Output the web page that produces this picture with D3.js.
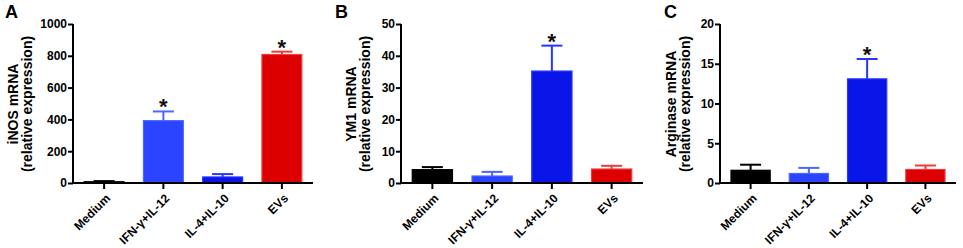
<!DOCTYPE html>
<html>
<head>
<script src="https://d3js.org/d3.v7.min.js"></script>
<style>
  body { margin: 0; background: #fff; }
  text { font-family: Arial, "Liberation Sans", sans-serif; font-weight: bold; }
</style>
</head>
<body>
<svg width="963" height="248"></svg>
<script>
const groups = ["Medium", "IFN-\u03b3+IL-12", "IL-4+IL-10", "EVs"];
const fills = ["#000000", "#2a44ff", "#0a16e8", "#dc0000"];
const strokes = ["#000000", "#4a66ff", "#2436ff", "#f03a3a"];

// panel A: iNOS
const inosMean = [8, 392, 38, 808];
const inosErr = [4, 58, 18, 18];
const inosStar = [false, true, false, true];
// panel B: YM1
const ym1Mean = [4.2, 2.2, 35.2, 4.4];
const ym1Err = [0.8, 1.3, 8.0, 1.0];
const ym1Star = [false, false, true, false];
// panel C: Arginase
const argMean = [1.6, 1.2, 13.1, 1.7];
const argErr = [0.7, 0.7, 2.5, 0.5];
const argStar = [false, false, true, false];

const panels = [
  {letter: "A", title: "iNOS mRNA", mean: inosMean, err: inosErr, star: inosStar,
   max: 1000, ticks: [0, 200, 400, 600, 800, 1000], x0: 73, x1: 313, lx: 5, tx: 18},
  {letter: "B", title: "YM1 mRNA", mean: ym1Mean, err: ym1Err, star: ym1Star,
   max: 50, ticks: [0, 10, 20, 30, 40, 50], x0: 401, x1: 643, lx: 335, tx: 356},
  {letter: "C", title: "Arginase mRNA", mean: argMean, err: argErr, star: argStar,
   max: 20, ticks: [0, 5, 10, 15, 20], x0: 720, x1: 956, lx: 664, tx: 676}
];

const svg = d3.select("svg");
const yTop = 24, base = 183;
const font = "Arial, 'Liberation Sans', sans-serif";

panels.forEach(p => {
  const g = svg.append("g");
  const y = d3.scaleLinear().domain([0, p.max]).range([base, yTop]);
  const x = d3.scaleBand().domain(groups).range([p.x0, p.x1]).paddingInner(0.31).paddingOuter(0.18);

  // bars
  g.selectAll(".bar").data(groups).enter().append("rect")
    .attr("x", d => x(d) + 0.5)
    .attr("y", (d, i) => y(p.mean[i]))
    .attr("width", x.bandwidth() - 1)
    .attr("height", (d, i) => base - y(p.mean[i]))
    .attr("fill", (d, i) => fills[i])
    .attr("stroke", (d, i) => strokes[i])
    .attr("stroke-width", 1.2);

  // error bars (upper only)
  groups.forEach((d, i) => {
    const cx = x(d) + x.bandwidth() / 2;
    const ye = y(p.mean[i] + p.err[i]);
    g.append("line").attr("x1", cx).attr("x2", cx)
      .attr("y1", y(p.mean[i])).attr("y2", ye)
      .attr("stroke", strokes[i]).attr("stroke-width", 2);
    g.append("line").attr("x1", cx - 10.5).attr("x2", cx + 10.5)
      .attr("y1", ye).attr("y2", ye)
      .attr("stroke", strokes[i]).attr("stroke-width", 2);
    if (p.star[i]) {
      g.append("text").attr("x", cx).attr("y", ye + 3)
        .attr("text-anchor", "middle").style("font-size", "22px")
        .attr("fill", "#111").text("*");
    }
  });

  // y axis
  const ya = g.append("g").attr("transform", `translate(${p.x0},0)`)
    .call(d3.axisLeft(y).tickValues(p.ticks).tickSize(5).tickPadding(1).tickFormat(d3.format("d")));
  ya.select(".domain").attr("stroke-width", 2).attr("d", `M0,${yTop}V${base}`);
  ya.selectAll(".tick line").attr("stroke-width", 2);
  ya.selectAll("text").style("font-size", "12px").style("font-weight", "bold")
    .style("font-family", font).attr("fill", "#000");

  // x axis
  const xa = g.append("g").attr("transform", `translate(0,${base})`)
    .call(d3.axisBottom(x).tickSize(6).tickSizeOuter(0));
  xa.select(".domain").attr("stroke-width", 2.2).attr("d", `M${p.x0 - 1},0H${p.x1}`);
  xa.selectAll(".tick line").attr("stroke-width", 2);
  xa.selectAll("text")
    .style("font-size", "12px").style("font-weight", "bold")
    .style("font-family", font).attr("fill", "#000")
    .attr("text-anchor", "end")
    .attr("dy", "0.35em")
    .attr("transform", "translate(4,13) rotate(-45)")
    .attr("y", 0).attr("x", 0);

  // y title
  const tt = g.append("text").attr("transform", `translate(${p.tx},104) rotate(-90)`)
    .attr("text-anchor", "middle").style("font-size", "14px");
  tt.append("tspan").attr("x", 0).attr("dy", 0).text(p.title);
  tt.append("tspan").attr("x", 0).attr("dy", 14).text("(relative expression)");

  // panel letter
  svg.append("text").attr("x", p.lx).attr("y", 18).style("font-size", "18px").text(p.letter);
});
</script>
</body>
</html>
